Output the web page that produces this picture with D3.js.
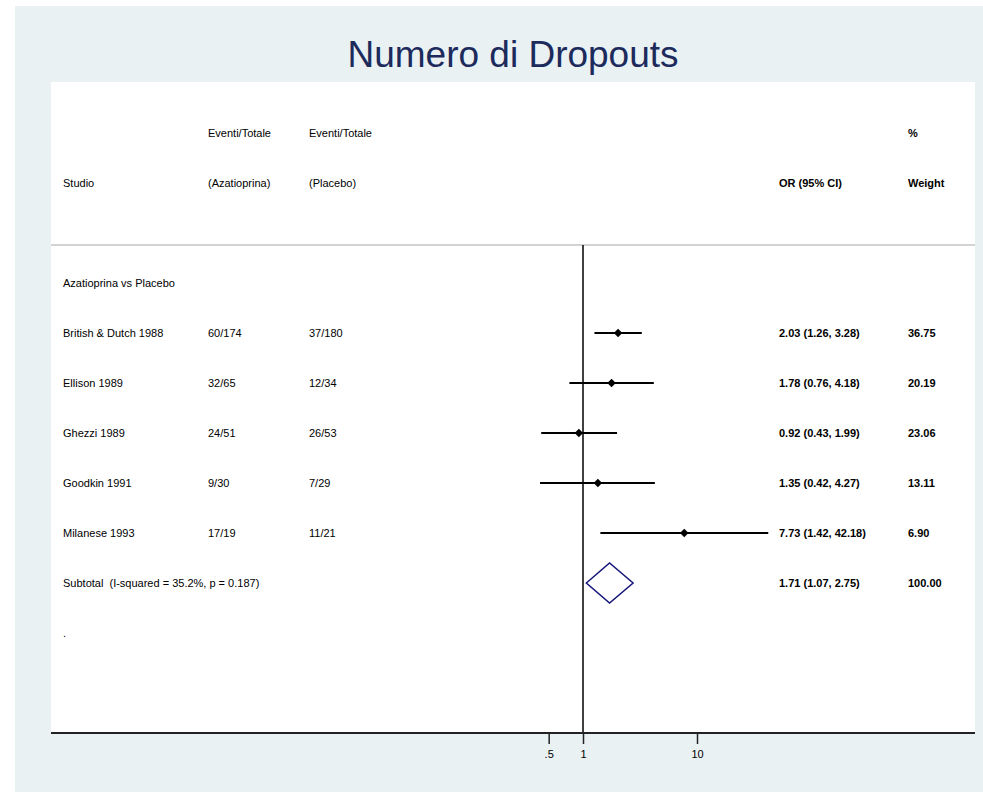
<!DOCTYPE html>
<html>
<head>
<meta charset="utf-8">
<script src="https://cdn.jsdelivr.net/npm/d3@7"></script>
<style>
  html, body { margin: 0; padding: 0; background: #ffffff; }
  svg { display: block; font-family: "Liberation Sans", Arial, sans-serif; }
</style>
</head>
<body>
<svg id="chart" width="983" height="792"></svg>
<script>
// Forest plot: azathioprine vs placebo, number of dropouts
const studies   = ["British & Dutch 1988", "Ellison 1989", "Ghezzi 1989", "Goodkin 1991", "Milanese 1993"];
const eventsAza = ["60/174", "32/65", "24/51", "9/30", "17/19"];
const eventsPla = ["37/180", "12/34", "26/53", "7/29", "11/21"];
const oddsRatio = [2.03, 1.78, 0.92, 1.35, 7.73];
const ciLow     = [1.26, 0.76, 0.43, 0.42, 1.42];
const ciHigh    = [3.28, 4.18, 1.99, 4.27, 42.18];
const weights   = [36.75, 20.19, 23.06, 13.11, 6.90];
const pooledOR  = [1.71, 1.07, 2.75];   // estimate, lower, upper
const pooledWeight = 100.00;
const subtotalLabel = "Subtotal  (I-squared = 35.2%, p = 0.187)";
const groupLabel = "Azatioprina vs Placebo";
const tickValues = [0.5, 1, 10];
const tickLabels = [".5", "1", "10"];

const svg = d3.select("#chart");
const W = 983, H = 792;

// outer graph region and inner plot region
svg.append("rect").attr("x", 15).attr("y", 6).attr("width", W - 15).attr("height", H - 6).attr("fill", "#e9f1f3");
const plot = { left: 51, right: 975, top: 82, bottom: 733 };
svg.append("rect").attr("x", plot.left).attr("y", plot.top)
  .attr("width", plot.right - plot.left).attr("height", plot.bottom - plot.top).attr("fill", "#ffffff");

// title
svg.append("text").attr("x", (plot.left + plot.right) / 2).attr("y", 67)
  .attr("text-anchor", "middle").attr("font-size", 37).attr("fill", "#1c2a5c")
  .text("Numero di Dropouts");

// scales
const x = d3.scaleLog().domain([1, 10]).range([583, 697]);
const y = d3.scaleLinear().domain([0, 1]).range([133, 183]); // one row per step

const col = { study: 63, aza: 208, pla: 309, or: 779, wt: 908 };
const txt = (xp, row, s, bold) => svg.append("text")
  .attr("x", xp).attr("y", y(row)).attr("dy", "0.35em")
  .attr("font-size", 11).attr("font-weight", bold ? "bold" : "normal").attr("fill", "#000")
  .style("white-space", "pre")
  .text(s);

// headers
txt(col.aza, 0, "Eventi/Totale");
txt(col.pla, 0, "Eventi/Totale");
txt(col.wt, 0, "%", true);
txt(col.study, 1, "Studio");
txt(col.aza, 1, "(Azatioprina)");
txt(col.pla, 1, "(Placebo)");
txt(col.or, 1, "OR (95% CI)", true);
txt(col.wt, 1, "Weight", true);

// header separator
svg.append("line").attr("x1", plot.left).attr("x2", plot.right)
  .attr("y1", y(2.24)).attr("y2", y(2.24))
  .attr("stroke", "#c4c4c4").attr("stroke-width", 1.5);

// null line at OR = 1
svg.append("line").attr("x1", x(1)).attr("x2", x(1))
  .attr("y1", y(2.24)).attr("y2", plot.bottom)
  .attr("stroke", "#000").attr("stroke-width", 1.5);

txt(col.study, 3, groupLabel);

const fmt = d3.format(".2f");
studies.forEach((s, i) => {
  const r = 4 + i;
  txt(col.study, r, s);
  txt(col.aza, r, eventsAza[i]);
  txt(col.pla, r, eventsPla[i]);
  txt(col.or, r, `${fmt(oddsRatio[i])} (${fmt(ciLow[i])}, ${fmt(ciHigh[i])})`, true);
  txt(col.wt, r, fmt(weights[i]), true);
  svg.append("line").attr("x1", x(ciLow[i])).attr("x2", x(ciHigh[i]))
    .attr("y1", y(r)).attr("y2", y(r))
    .attr("stroke", "#000").attr("stroke-width", 2);
  svg.append("path")
    .attr("d", d3.symbol(d3.symbolSquare, 36)())
    .attr("transform", `translate(${x(oddsRatio[i])},${y(r)}) rotate(45)`)
    .attr("fill", "#000");
});

// pooled estimate
const rs = 4 + studies.length;
txt(col.study, rs, subtotalLabel);
txt(col.or, rs, `${fmt(pooledOR[0])} (${fmt(pooledOR[1])}, ${fmt(pooledOR[2])})`, true);
txt(col.wt, rs, fmt(pooledWeight), true);
const yc = y(rs), hh = 20;
svg.append("path")
  .attr("d", `M${x(pooledOR[1])},${yc} L${x(pooledOR[0])},${yc - hh} L${x(pooledOR[2])},${yc} L${x(pooledOR[0])},${yc + hh} Z`)
  .attr("fill", "none").attr("stroke", "#16167a").attr("stroke-width", 1.5);

txt(col.study, rs + 1, ".");

// x axis
svg.append("line").attr("x1", plot.left).attr("x2", plot.right)
  .attr("y1", plot.bottom).attr("y2", plot.bottom)
  .attr("stroke", "#222").attr("stroke-width", 2);
const axis = d3.axisBottom(x).tickValues(tickValues)
  .tickFormat((d, i) => tickLabels[i]).tickSize(11).tickPadding(6);
const gAxis = svg.append("g").attr("transform", `translate(0,${plot.bottom})`).call(axis);
gAxis.select(".domain").remove();
gAxis.selectAll(".tick line").attr("stroke", "#222").attr("stroke-width", 1.5);
gAxis.selectAll(".tick text").attr("font-size", 11).attr("fill", "#000")
  .attr("font-family", "'Liberation Sans', Arial, sans-serif");
</script>
</body>
</html>
